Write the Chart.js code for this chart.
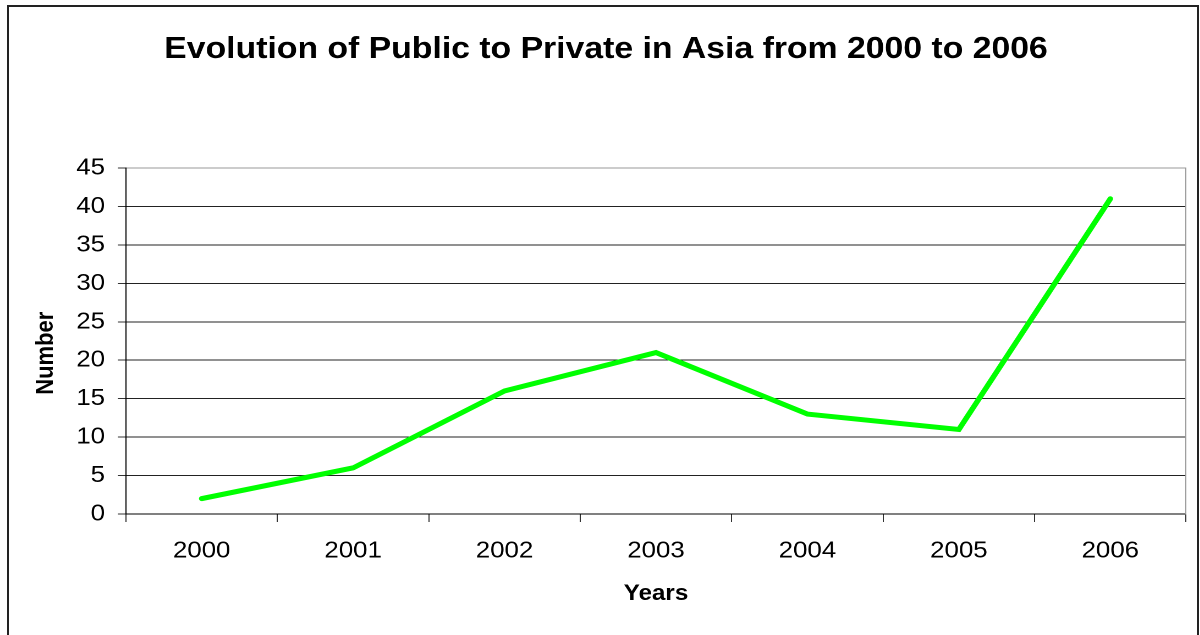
<!DOCTYPE html>
<html>
<head>
<meta charset="utf-8">
<script src="https://cdn.jsdelivr.net/npm/chart.js@4/dist/chart.umd.min.js"></script>
<style>
  html, body { margin: 0; padding: 0; background: #fff; overflow: hidden; width: 1200px; height: 635px; }
  #frame { position: absolute; left: 7px; top: 5px; width: 1188px; height: 700px; border: 2px solid #222; border-bottom: none; }
  #wrap { position: absolute; left: 0; top: 0; width: 1091px; height: 635px; transform: scaleX(1.1); transform-origin: 0 0; }
</style>
</head>
<body>
<div id="frame"></div>
<div id="wrap"><canvas id="c" width="1091" height="635"></canvas></div>
<script>
// ---- data ----
const categories = ['2000', '2001', '2002', '2003', '2004', '2005', '2006'];
const publicToPrivate = [2, 6, 16, 21, 13, 11, 41];
const yMin = 0;
const yMax = 45;
const yStep = 5;
const chartTitle = 'Evolution of Public to Private in Asia from 2000 to 2006';
const xTitle = 'Years';
const yTitle = 'Number';

Chart.defaults.font.family = "'Liberation Sans', Arial, Helvetica, sans-serif";
Chart.defaults.color = '#000';

new Chart(document.getElementById('c'), {
  type: 'line',
  data: {
    labels: categories,
    datasets: [{
      label: 'Public to Private',
      data: publicToPrivate,
      borderColor: '#00FF00',
      backgroundColor: '#00FF00',
      borderWidth: 5,
      pointRadius: 0,
      pointHoverRadius: 0,
      tension: 0,
      borderCapStyle: 'round',
      borderJoinStyle: 'miter',
      fill: false,
      yAxisID: 'y'
    }]
  },
  options: {
    responsive: false,
    devicePixelRatio: 2,
    animation: false,
    layout: { padding: { left: 10.8, right: 0, top: 0, bottom: 0 } },
    plugins: {
      legend: { display: false },
      tooltip: { enabled: false },
      title: {
        display: true,
        text: chartTitle,
        color: '#000',
        font: { size: 30.7, weight: 'bold' },
        padding: { top: 31.3, bottom: 99.9 }
      }
    },
    scales: {
      x: {
        type: 'category',
        offset: true,
        grid: {
          offset: true,
          drawOnChartArea: false,
          drawTicks: true,
          tickLength: 8,
          color: '#333'
        },
        border: { display: true, color: '#000', width: 1 },
        ticks: { color: '#000', font: { size: 23.5 }, padding: 15, maxRotation: 0 },
        title: {
          display: true,
          text: xTitle,
          color: '#000',
          font: { size: 22, weight: 'bold' },
          padding: { top: 0, bottom: 27.8 }
        },
        afterFit: (s) => { s.height = 121; }
      },
      y: {
        type: 'linear',
        position: 'left',
        min: yMin,
        max: yMax,
        ticks: { stepSize: yStep, color: '#000', font: { size: 23.5 }, padding: 11.7 },
        grid: {
          drawTicks: true,
          tickLength: 7.3,
          color: (ctx) => (ctx.tick && ctx.tick.value === yMax) ? '#999' : '#222',
          tickColor: '#333',
          lineWidth: 1
        },
        border: { display: true, color: '#000', width: 1 },
        title: {
          display: true,
          text: yTitle + '    ',
          color: '#000',
          font: { size: 22, weight: 'bold' },
          padding: { top: 17.8, bottom: 0 }
        },
        afterFit: (s) => { s.width = 103.7; }
      },
      y2: {
        type: 'linear',
        position: 'right',
        display: true,
        min: yMin,
        max: yMax,
        ticks: { display: false },
        grid: { drawOnChartArea: false, drawTicks: false },
        border: { display: true, color: '#999', width: 1 },
        afterFit: (s) => { s.width = 12.8; }
      }
    }
  }
});
</script>
</body>
</html>
